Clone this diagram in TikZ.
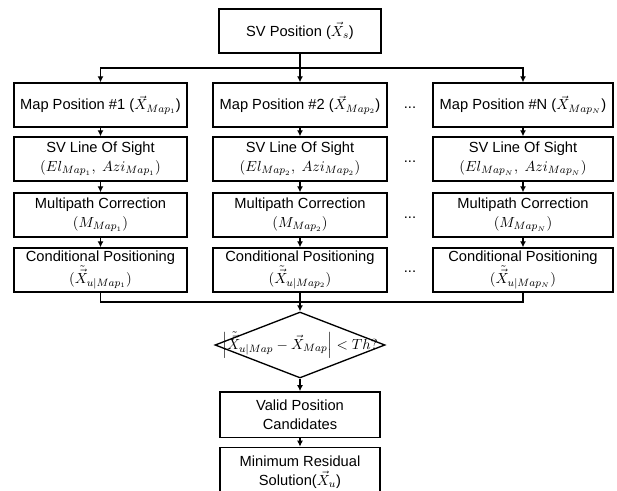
\documentclass[tikz,border=0pt]{standalone}
\usepackage{amsmath}
\usepackage[no-math]{fontspec}
\setmainfont{Liberation Sans}
\usetikzlibrary{arrows.meta,shapes.geometric}

\begin{document}
\begin{tikzpicture}[x=0.75pt,y=-0.75pt,line width=1pt,
  font=\fontsize{11}{14}\selectfont,
  box/.style={draw,rectangle,align=center,minimum height=33pt,inner sep=1pt},
  arr/.style={-{Latex[length=4.5pt,width=4.5pt]}}]
  \useasboundingbox (0,0) rectangle (617,491);

  % satellite position
  \node[box,minimum width=121.5pt] (sv) at (300,31) {SV Position ($\vec{X}_s$)};
  \coordinate (split) at (300,68);
  \coordinate (merge) at (300,302);
  \draw (sv) -- (split);

  % one column for each map position
  \foreach \c/\x/\w in {1/100.5/129.75pt,2/300/130.5pt,N/523/135pt}{
    \node[box,minimum width=\w] (map\c) at (\x,105) {Map Position \#\c\ ($\vec{X}_{Map_{\c}}$)};
    \node[box,minimum width=\w] (los\c) at (\x,159) {SV Line Of Sight\\$(El_{Map_{\c}},\ Azi_{Map_{\c}})$};
    \node[box,minimum width=\w] (mp\c) at (\x,215) {Multipath Correction\\$(M_{Map_{\c}})$};
    \node[box,minimum width=\w] (cp\c) at (\x,270) {Conditional Positioning\\$(\tilde{\vec{X}}_{u|Map_{\c}})$};
    \draw[arr] (split) -| (map\c);
    \draw[arr] (map\c) -- (los\c);
    \draw[arr] (los\c) -- (mp\c);
    \draw[arr] (mp\c) -- (cp\c);
  }

  % dots between column 2 and N
  \foreach \y [count=\i] in {108,162,218,272}
    \node (dots\i) at (410,\y) {...};

  % threshold check
  \node[draw,diamond,minimum width=127.5pt,minimum height=49.5pt,inner sep=0pt] (th) at (300,345) {};
  \node (thtext) at (th.center) {$\left|\tilde{\vec{X}}_{u|Map}-\vec{X}_{Map}\right|<Th?$};
  \draw (cp1) |- (merge);
  \draw (cpN) |- (merge);
  \draw[arr] (cp2) -- (th);

  % final steps
  \node[box,minimum width=120pt,minimum height=34pt] (valid) at (300,414.5) {Valid Position\\Candidates};
  \node[box,minimum width=120pt,minimum height=37pt] (minres) at (300,472) {Minimum Residual\\Solution($\vec{X}_u$)};
  \draw[arr] (th) -- (valid);
  \draw[arr] (valid) -- (minres);

\end{tikzpicture}
\end{document}
